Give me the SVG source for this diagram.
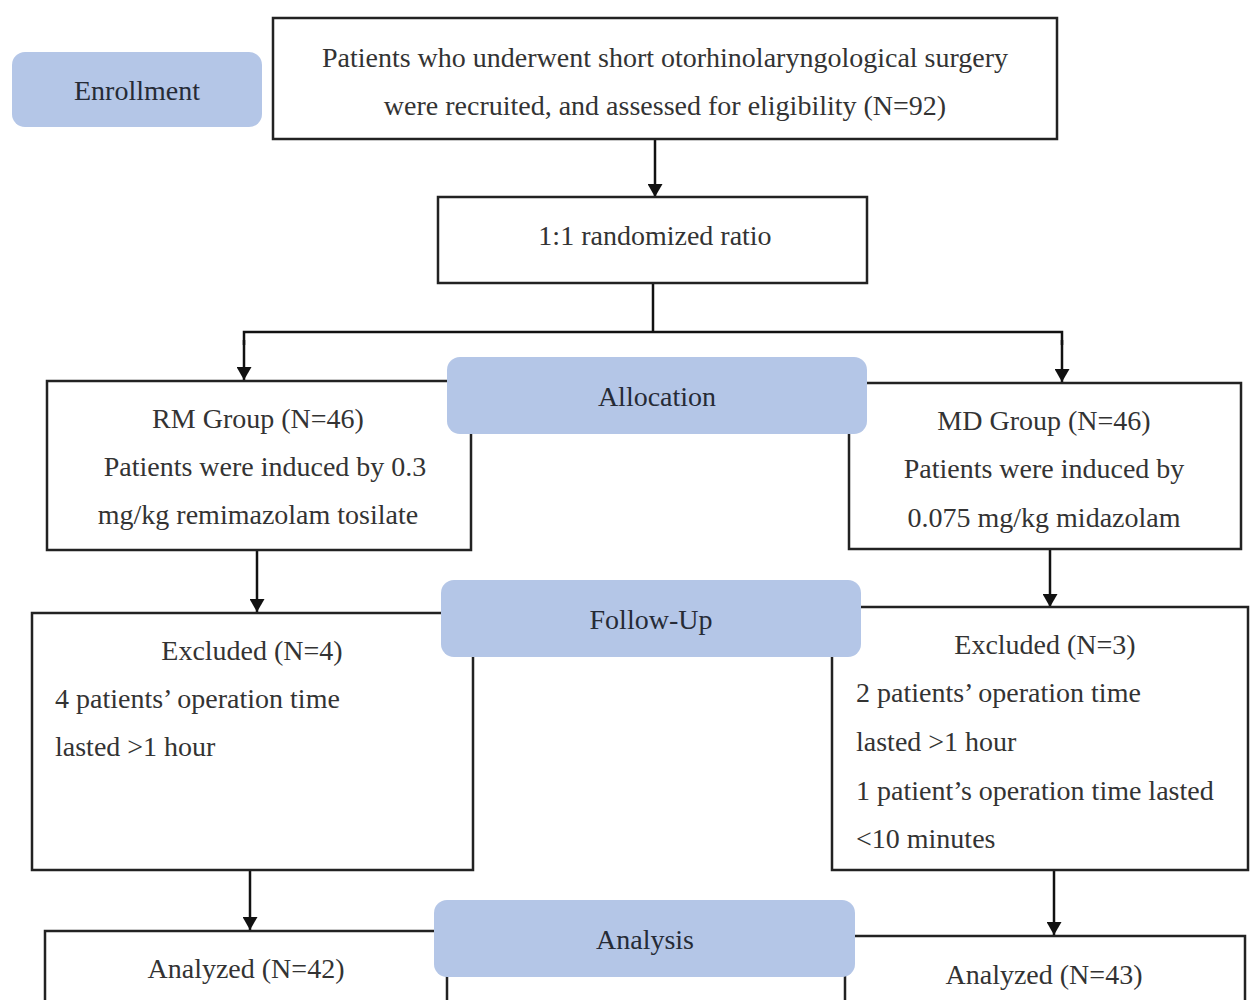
<svg xmlns="http://www.w3.org/2000/svg" width="1250" height="1000" viewBox="0 0 1250 1000">
<style>
.box{fill:#fff;stroke:#222;stroke-width:2.5}
.pill{fill:#b4c6e7;stroke:none}
.t{font-family:"Liberation Serif","Times New Roman",serif;font-size:28px;fill:#333}
.c{text-anchor:middle}
.p{font-family:"Liberation Serif","Times New Roman",serif;font-size:28px;fill:#262b36;text-anchor:middle}
.ln{stroke:#111;stroke-width:2.5;fill:none}
</style>
<defs>
<marker id="ah" viewBox="0 0 13 15" refX="13" refY="7.5" markerWidth="13" markerHeight="15" markerUnits="userSpaceOnUse" orient="auto">
<path d="M0,0 L13,7.5 L0,15 Z" fill="#111"/>
</marker>
</defs>
<rect width="1250" height="1000" fill="#fff"/>
<g id="connectors">
<line class="ln" x1="655" y1="139" x2="655" y2="197" marker-end="url(#ah)"/>
<line class="ln" x1="653" y1="283" x2="653" y2="332"/>
<polyline class="ln" points="244,345 244,332 1062,332 1062,345"/>
<line class="ln" x1="244" y1="340" x2="244" y2="380" marker-end="url(#ah)"/>
<line class="ln" x1="1062" y1="340" x2="1062" y2="382" marker-end="url(#ah)"/>
<line class="ln" x1="257" y1="550" x2="257" y2="612" marker-end="url(#ah)"/>
<line class="ln" x1="1050" y1="550" x2="1050" y2="607" marker-end="url(#ah)"/>
<line class="ln" x1="250" y1="870" x2="250" y2="930" marker-end="url(#ah)"/>
<line class="ln" x1="1054" y1="870" x2="1054" y2="935" marker-end="url(#ah)"/>
</g>
<g id="n-enrollment">
<rect class="pill" x="12" y="52" width="250" height="75" rx="13"/>
<text class="p" x="137" y="100">Enrollment</text>
</g>
<g id="n-recruited">
<rect class="box" x="273" y="18" width="784" height="121"/>
<text class="t c" x="665" y="67">Patients who underwent short otorhinolaryngological surgery</text>
<text class="t c" x="665" y="115">were recruited, and assessed for eligibility (N=92)</text>
</g>
<g id="n-random">
<rect class="box" x="438" y="197" width="429" height="86"/>
<text class="t c" x="655" y="245">1:1 randomized ratio</text>
</g>
<g id="n-rm">
<rect class="box" x="47" y="381" width="424" height="169"/>
<text class="t c" x="258" y="428">RM Group (N=46)</text>
<text class="t c" x="265" y="476">Patients were induced by 0.3</text>
<text class="t c" x="258" y="524">mg/kg remimazolam tosilate</text>
</g>
<g id="n-md">
<rect class="box" x="849" y="383" width="392" height="166"/>
<text class="t c" x="1044" y="430">MD Group (N=46)</text>
<text class="t c" x="1044" y="478">Patients were induced by</text>
<text class="t c" x="1044" y="527">0.075 mg/kg midazolam</text>
</g>
<g id="n-allocation">
<rect class="pill" x="447" y="357" width="420" height="77" rx="13"/>
<text class="p" x="657" y="406">Allocation</text>
</g>
<g id="n-excl-left">
<rect class="box" x="32" y="613" width="441" height="257"/>
<text class="t c" x="252" y="660">Excluded (N=4)</text>
<text class="t" x="55" y="708">4 patients’ operation time</text>
<text class="t" x="55" y="756">lasted &gt;1 hour</text>
</g>
<g id="n-excl-right">
<rect class="box" x="832" y="607" width="416" height="263"/>
<text class="t c" x="1045" y="654">Excluded (N=3)</text>
<text class="t" x="856" y="702">2 patients’ operation time</text>
<text class="t" x="856" y="751">lasted &gt;1 hour</text>
<text class="t" x="856" y="800">1 patient’s operation time lasted</text>
<text class="t" x="856" y="848">&lt;10 minutes</text>
</g>
<g id="n-followup">
<rect class="pill" x="441" y="580" width="420" height="77" rx="13"/>
<text class="p" x="651" y="629">Follow-Up</text>
</g>
<g id="n-analyzed-left">
<rect class="box" x="45" y="931" width="402" height="80"/>
<text class="t c" x="246" y="978">Analyzed (N=42)</text>
</g>
<g id="n-analyzed-right">
<rect class="box" x="845" y="936" width="400" height="80"/>
<text class="t c" x="1044" y="984">Analyzed (N=43)</text>
</g>
<g id="n-analysis">
<rect class="pill" x="434" y="900" width="421" height="77" rx="13"/>
<text class="p" x="645" y="949">Analysis</text>
</g>
</svg>
